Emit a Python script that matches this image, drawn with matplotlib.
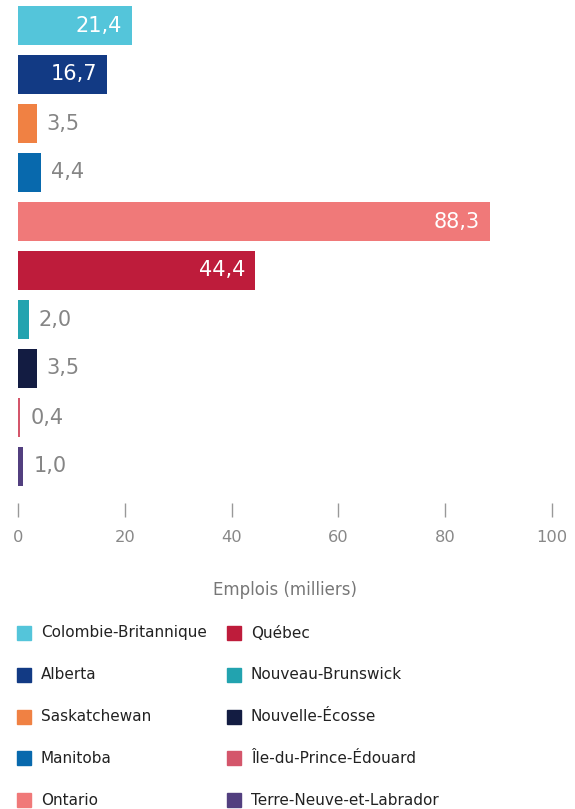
import matplotlib.pyplot as plt
from matplotlib.patches import Rectangle

# Emplois par province (milliers)
provinces = ["Colombie-Britannique", "Alberta", "Saskatchewan", "Manitoba", "Ontario",
             "Québec", "Nouveau-Brunswick", "Nouvelle-Écosse", "Île-du-Prince-Édouard",
             "Terre-Neuve-et-Labrador"]
emplois = [21.4, 16.7, 3.5, 4.4, 88.3, 44.4, 2.0, 3.5, 0.4, 1.0]
couleurs = ["#54C5DA", "#123A84", "#F08143", "#0869AD", "#F07979",
            "#BE1C3B", "#22A3AF", "#131C42", "#D4566B", "#523F7F"]
ticks = [0, 20, 40, 60, 80, 100]

W, H = 575, 809
fig = plt.figure(figsize=(W / 100, H / 100), dpi=100)
plt.rcParams['font.family'] = ['DejaVu Sans']

# axes in pixel coordinates: left 18, right 552, top 1, bottom 517
ax = fig.add_axes([18 / W, 1 - 517 / H, 534 / W, 516 / H])
pos = list(range(len(emplois)))
ax.barh(pos, emplois, height=0.8, color=couleurs)
ax.set_xlim(0, 100)
ax.set_ylim(-0.5 + 516 / 49, -0.5)

for y, v in zip(pos, emplois):
    txt = f"{v:.1f}".replace(".", ",")
    if v >= 10:
        ax.annotate(txt, (v, y), xytext=(-10, 0), textcoords="offset pixels",
                    ha="right", va="center", color="white", fontsize=15,
                    fontweight="medium")
    else:
        ax.annotate(txt, (v, y), xytext=(10, 0), textcoords="offset pixels",
                    ha="left", va="center", color="#858585", fontsize=15)

for s in ax.spines.values():
    s.set_visible(False)
ax.set_yticks([])
ax.set_xticks(ticks)
ax.tick_params(axis="x", direction="in", length=10, width=1, color="#999999",
               labelcolor="#888888", labelsize=11.7, pad=9)
ax.set_xlabel("Emplois (milliers)", fontsize=12, color="#777777", labelpad=26)

# legend, two columns
for i, (nom, c) in enumerate(zip(provinces, couleurs)):
    col, row = divmod(i, 5)
    x0 = 17 if col == 0 else 227
    yc = 633 + row * 41.8
    fig.patches.append(Rectangle((x0 / W, 1 - (yc + 7) / H), 14 / W, 14 / H,
                                 transform=fig.transFigure, color=c))
    fig.text((x0 + 24) / W, 1 - yc / H, nom, ha="left", va="center",
             fontsize=11, color="#222222")

fig.savefig("out.png", dpi=100)
